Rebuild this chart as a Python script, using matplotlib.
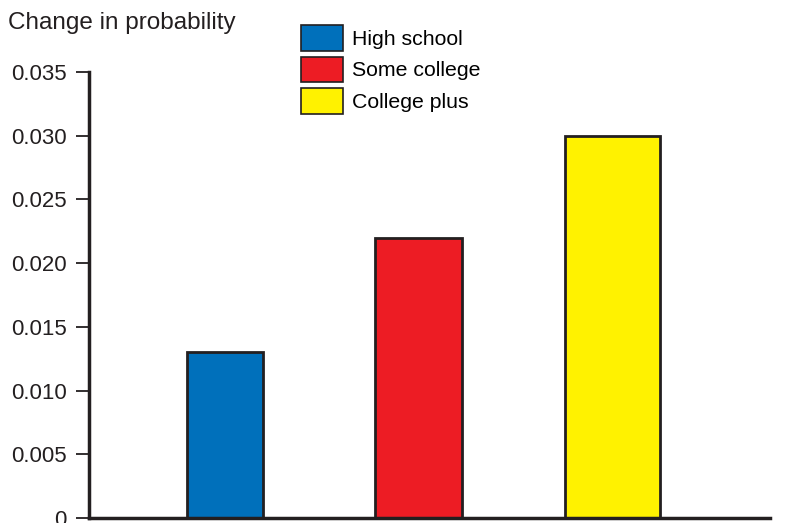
import matplotlib.pyplot as plt
from matplotlib.patches import Patch

plt.rcParams['font.family'] = ['Liberation Sans', 'DejaVu Sans']

# data
categories = ["High school", "Some college", "College plus"]
values = [0.013, 0.022, 0.030]
colors = ["#0070bb", "#ed1c24", "#fff200"]
yticks = [0, 0.005, 0.010, 0.015, 0.020, 0.025, 0.030, 0.035]
yticklabels = ["0", "0.005", "0.010", "0.015", "0.020", "0.025", "0.030", "0.035"]

fig = plt.figure(figsize=(7.86, 5.23), dpi=100)
ax = fig.add_axes([89/786, 1 - 518/523, 681/786, 446/523])

x = [1, 2, 3]
widths = [0.39, 0.45, 0.49]
ax.bar(x, values, width=widths, color=colors, edgecolor="#231f20", linewidth=2)

ax.set_xlim(0.30, 0.30 + 681/194)
ax.set_ylim(0, 0.035)
ax.set_yticks(yticks)
ax.set_yticklabels(yticklabels, fontsize=16, color="#231f20")
ax.set_xticks([])
ax.tick_params(axis='y', direction='out', length=9.5, width=1.3, color="#231f20", pad=6.5)

for s in ["top", "right"]:
    ax.spines[s].set_visible(False)
for s in ["left", "bottom"]:
    ax.spines[s].set_linewidth(2.5)
    ax.spines[s].set_color("#231f20")

fig.text(8/786, 1 - 23/523, "Change in probability", fontsize=17.5, va="center", ha="left", color="#231f20")

handles = [Patch(facecolor=c, edgecolor="#231f20", linewidth=1.2) for c in colors]
fig.legend(handles, categories, loc="upper left", bbox_to_anchor=(301/786, 1 - 25/523),
           frameon=False, fontsize=15.3, handlelength=1.98, handleheight=1.48,
           labelspacing=0.28, handletextpad=0.42, borderpad=0, borderaxespad=0)

fig.savefig("out.png", dpi=100)
